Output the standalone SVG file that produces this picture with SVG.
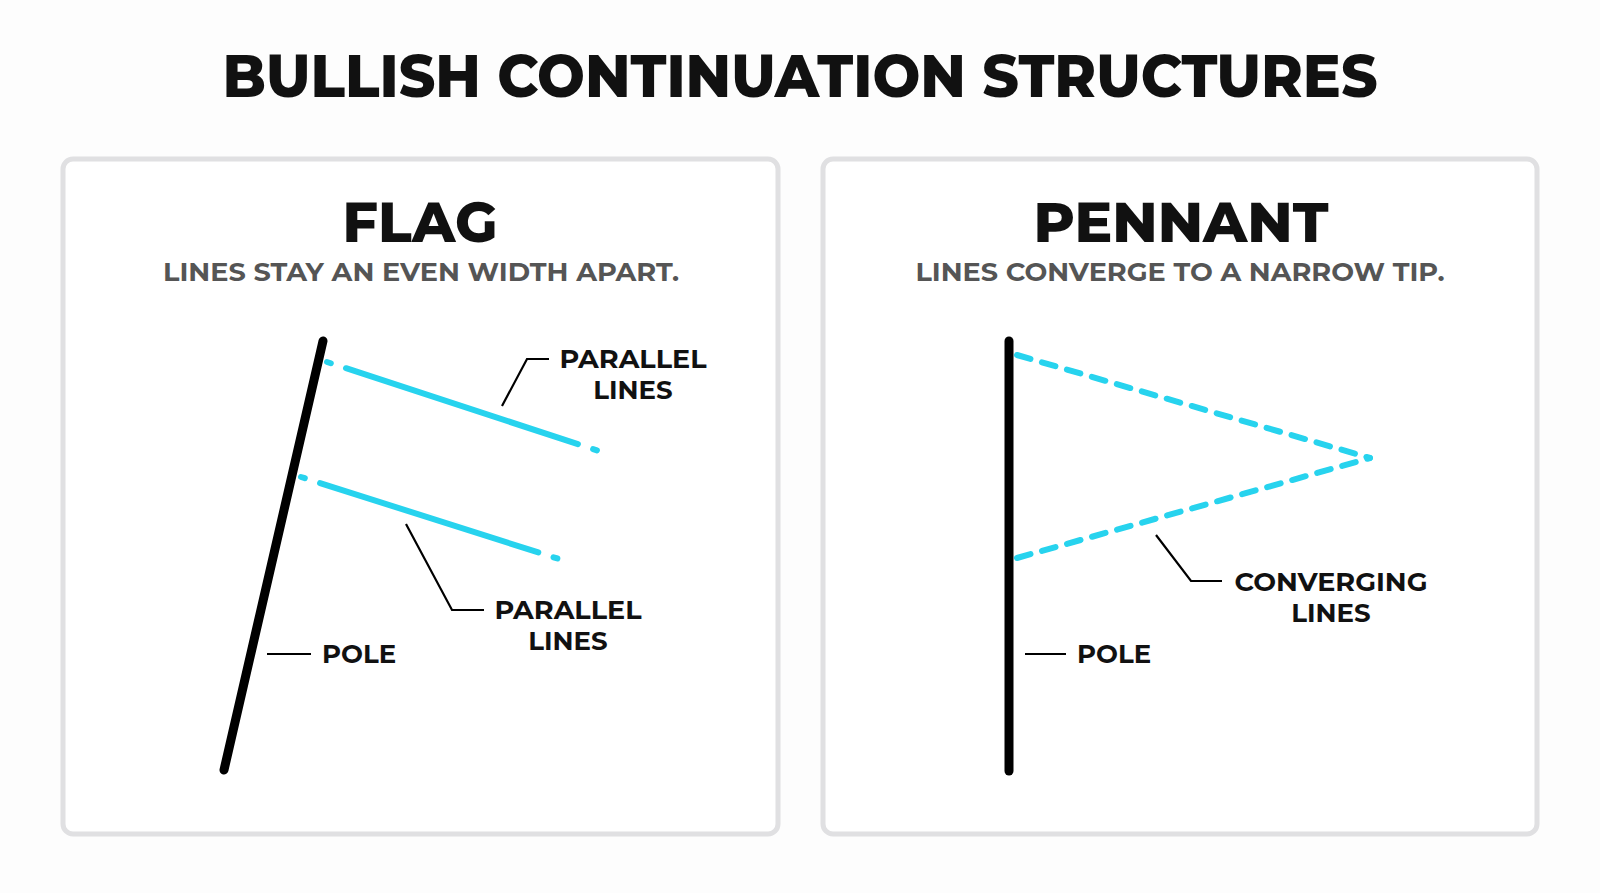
<svg xmlns="http://www.w3.org/2000/svg" width="1600" height="893" viewBox="0 0 1600 893">
<style>
.t{font-family:Montserrat,Inter,"Open Sans","Liberation Sans",sans-serif;font-weight:800;fill:#111}
.sub{font-family:Montserrat,Inter,"Open Sans","Liberation Sans",sans-serif;font-weight:700;fill:#555;font-size:25px}
.lbl{font-family:Montserrat,Inter,"Open Sans","Liberation Sans",sans-serif;font-weight:700;fill:#111;font-size:26px}
.box{fill:#fff;stroke:#e0e0e2;stroke-width:5}
.pole{stroke:#000;stroke-width:9;stroke-linecap:round;fill:none}
.cy{stroke:#27d3ee;stroke-width:6;stroke-linecap:round;fill:none}
.ld{stroke:#000;stroke-width:2.2;fill:none}
</style>
<rect width="1600" height="893" fill="#fdfdfd"/>
<text class="t" x="800" y="97" font-size="60" text-anchor="middle" textLength="1155" lengthAdjust="spacingAndGlyphs">BULLISH CONTINUATION STRUCTURES</text>
<g id="flag-panel">
<rect class="box" x="63" y="159" width="715" height="675" rx="10"/>
<text class="t" x="420" y="242" font-size="56" text-anchor="middle" textLength="155" lengthAdjust="spacingAndGlyphs">FLAG</text>
<text class="sub" x="421" y="281" text-anchor="middle" textLength="516" lengthAdjust="spacingAndGlyphs">LINES STAY AN EVEN WIDTH APART.</text>
</g>
<g id="pennant-panel">
<rect class="box" x="823" y="159" width="714" height="675" rx="10"/>
<text class="t" x="1181" y="242" font-size="56" text-anchor="middle" textLength="295" lengthAdjust="spacingAndGlyphs">PENNANT</text>
<text class="sub" x="1180" y="281" text-anchor="middle" textLength="529" lengthAdjust="spacingAndGlyphs">LINES CONVERGE TO A NARROW TIP.</text>
</g>
<g id="flag-pole"><line class="pole" x1="323" y1="341" x2="224" y2="770"/></g>
<g id="flag-upper"><line class="cy" x1="327" y1="362" x2="602" y2="452" stroke-dasharray="4 16 244 16 4 100"/></g>
<g id="flag-lower"><line class="cy" x1="301" y1="477" x2="559" y2="559" stroke-dasharray="4 16 229 16 4 100"/></g>
<g id="pennant-pole"><line class="pole" x1="1009" y1="341" x2="1009" y2="771"/></g>
<g id="pennant-lines">
<line class="cy" x1="1017" y1="355" x2="1370" y2="458" stroke-dasharray="14 12"/>
<line class="cy" x1="1017" y1="558" x2="1370" y2="458" stroke-dasharray="14 12"/>
</g>
<g id="connectors">
<polyline class="ld" points="502,406 527,359 549,359"/>
<polyline class="ld" points="406,524 452,610 484,610"/>
<line class="ld" x1="267" y1="654" x2="311" y2="654"/>
<polyline class="ld" points="1156,535 1191,581 1222,581"/>
<line class="ld" x1="1025" y1="654" x2="1066" y2="654"/>
</g>
<g id="labels">
<text class="lbl" x="633" y="368" text-anchor="middle" textLength="147" lengthAdjust="spacingAndGlyphs">PARALLEL</text>
<text class="lbl" x="633" y="399" text-anchor="middle">LINES</text>
<text class="lbl" x="568" y="619" text-anchor="middle" textLength="147" lengthAdjust="spacingAndGlyphs">PARALLEL</text>
<text class="lbl" x="568" y="650" text-anchor="middle">LINES</text>
<text class="lbl" x="322" y="663">POLE</text>
<text class="lbl" x="1331" y="591" text-anchor="middle" textLength="193" lengthAdjust="spacingAndGlyphs">CONVERGING</text>
<text class="lbl" x="1331" y="622" text-anchor="middle">LINES</text>
<text class="lbl" x="1077" y="663">POLE</text>
</g>
</svg>
